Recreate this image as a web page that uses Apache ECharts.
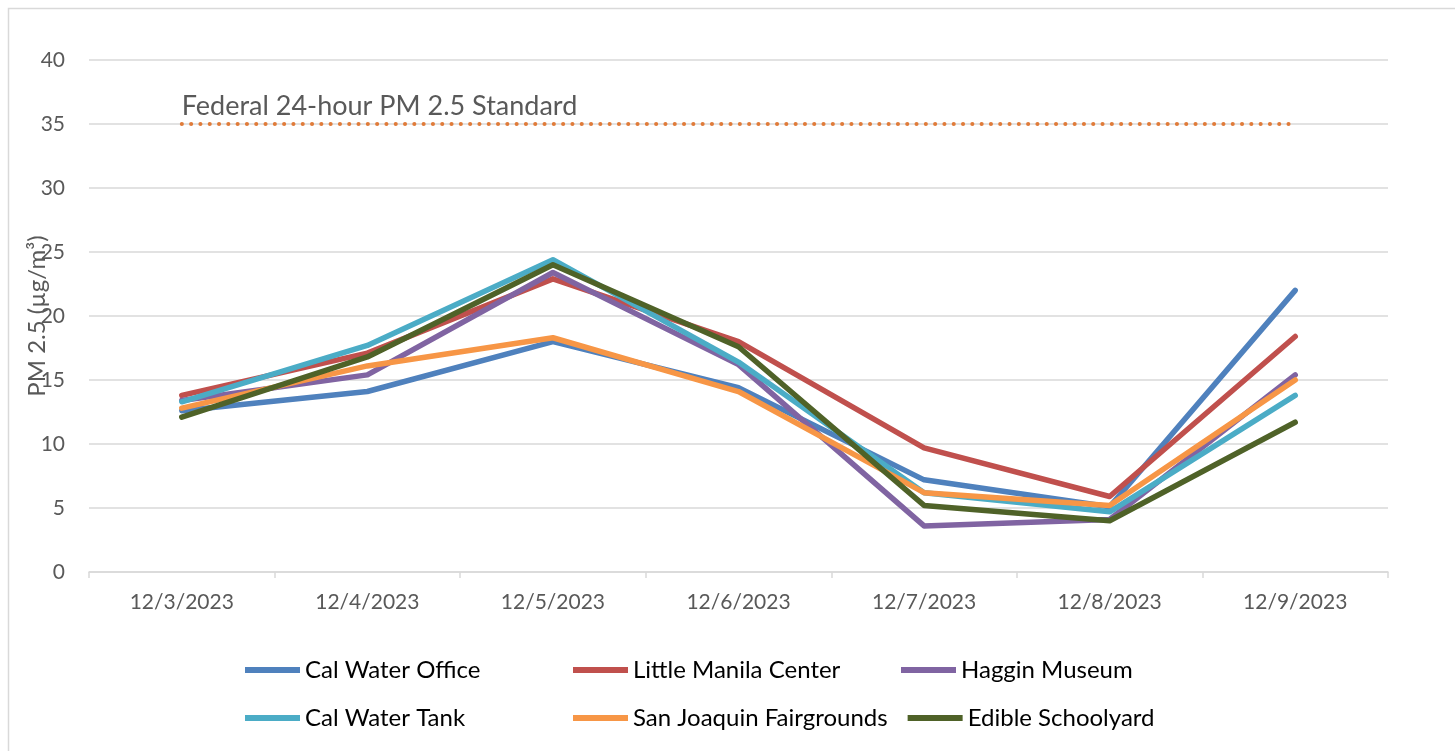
<!DOCTYPE html>
<html>
<head>
<meta charset="utf-8">
<script src="https://cdn.jsdelivr.net/npm/echarts@6/dist/echarts.min.js"></script>
<style>
  html, body { margin: 0; padding: 0; background: #fff; }
  #main { width: 1455px; height: 751px; }
</style>
</head>
<body>
<div id="main"></div>
<script>
var dates = ["12/3/2023", "12/4/2023", "12/5/2023", "12/6/2023", "12/7/2023", "12/8/2023", "12/9/2023"];
var calWaterOffice = [12.6, 14.1, 18.0, 14.4, 7.2, 5.1, 22.0];
var littleManila = [13.8, 17.1, 22.9, 18.0, 9.7, 5.9, 18.4];
var hagginMuseum = [13.4, 15.4, 23.4, 16.2, 3.6, 4.1, 15.4];
var calWaterTank = [13.3, 17.7, 24.4, 16.4, 6.2, 4.7, 13.8];
var fairgrounds = [12.8, 16.1, 18.3, 14.1, 6.2, 5.2, 15.0];
var edibleSchoolyard = [12.1, 16.8, 24.0, 17.6, 5.2, 4.0, 11.7];
var standard = [35, 35, 35, 35, 35, 35, 35];
var yTicks = [0, 5, 10, 15, 20, 25, 30, 35, 40];

var font = "Lato, 'Open Sans', sans-serif";

function line(name, data, color) {
  return {
    name: name,
    type: "line",
    data: data,
    symbol: "none",
    lineStyle: { width: 5.5, color: color, cap: "round", join: "round" },
    itemStyle: { color: color },
    z: 3,
  };
}

var chart = echarts.init(document.getElementById("main"));
var option = {
  animation: false,
  textStyle: { fontFamily: font },
  grid: { left: 89, right: 67, top: 60, bottom: 179 },
  graphic: [
    {
      type: "rect",
      shape: { x: 8.5, y: 8.5, width: 1460, height: 760 },
      style: { fill: "none", stroke: "#D9D9D9", lineWidth: 1.5 },
      silent: true,
    },
  ],
  legend: {
    data: ["Cal Water Office", "Little Manila Center", "Haggin Museum", "Cal Water Tank", "San Joaquin Fairgrounds", "Edible Schoolyard"],
    left: 240,
    top: 651,
    width: 1000,
    itemWidth: 55,
    itemHeight: 6,
    itemGap: 20,
    icon: "rect",
    textStyle: { fontSize: 24, color: "#000", width: 248, lineHeight: 28, fontFamily: font },
  },
  xAxis: {
    type: "category",
    data: dates,
    boundaryGap: true,
    axisLine: { lineStyle: { color: "#D9D9D9", width: 1.5 } },
    axisTick: { show: true, length: 6, lineStyle: { color: "#D9D9D9", width: 1.5 } },
    axisLabel: { fontSize: 21, color: "#595959", margin: 20, fontFamily: font },
  },
  yAxis: {
    type: "value",
    min: yTicks[0],
    max: yTicks[yTicks.length - 1],
    interval: 5,
    name: "PM 2.5 (µg/m³)",
    nameLocation: "middle",
    nameGap: 40,
    nameMoveOverlap: false,
    nameTextStyle: { fontSize: 24, color: "#595959", fontFamily: font },
    axisLine: { show: false },
    axisTick: { show: false },
    axisLabel: { fontSize: 21, color: "#595959", margin: 24, fontFamily: font },
    splitLine: { lineStyle: { color: "#D9D9D9", width: 1.5 } },
  },
  series: [
    {
      name: "Federal Standard",
      type: "line",
      data: standard.map(function (v, i) {
        if (i === 0) {
          return {
            value: v,
            label: {
              show: true,
              formatter: "Federal 24-hour PM 2.5 Standard",
              position: [0, -31],
              align: "left",
              fontSize: 27,
              color: "#595959",
              fontFamily: font,
            },
          };
        }
        return v;
      }),
      symbol: "circle",
      symbolSize: 0.1,
      showSymbol: true,
      lineStyle: { width: 4, color: "#E07B39", type: [0.1, 9.2], cap: "round" },
      itemStyle: { color: "#E07B39" },
      z: 2,
    },
    line("Cal Water Office", calWaterOffice, "#4F81BD"),
    line("Little Manila Center", littleManila, "#C0504D"),
    line("Haggin Museum", hagginMuseum, "#8064A2"),
    line("Cal Water Tank", calWaterTank, "#4BACC6"),
    line("San Joaquin Fairgrounds", fairgrounds, "#F79646"),
    line("Edible Schoolyard", edibleSchoolyard, "#4F6228"),
  ],
};
chart.setOption(option);
</script>
</body>
</html>
